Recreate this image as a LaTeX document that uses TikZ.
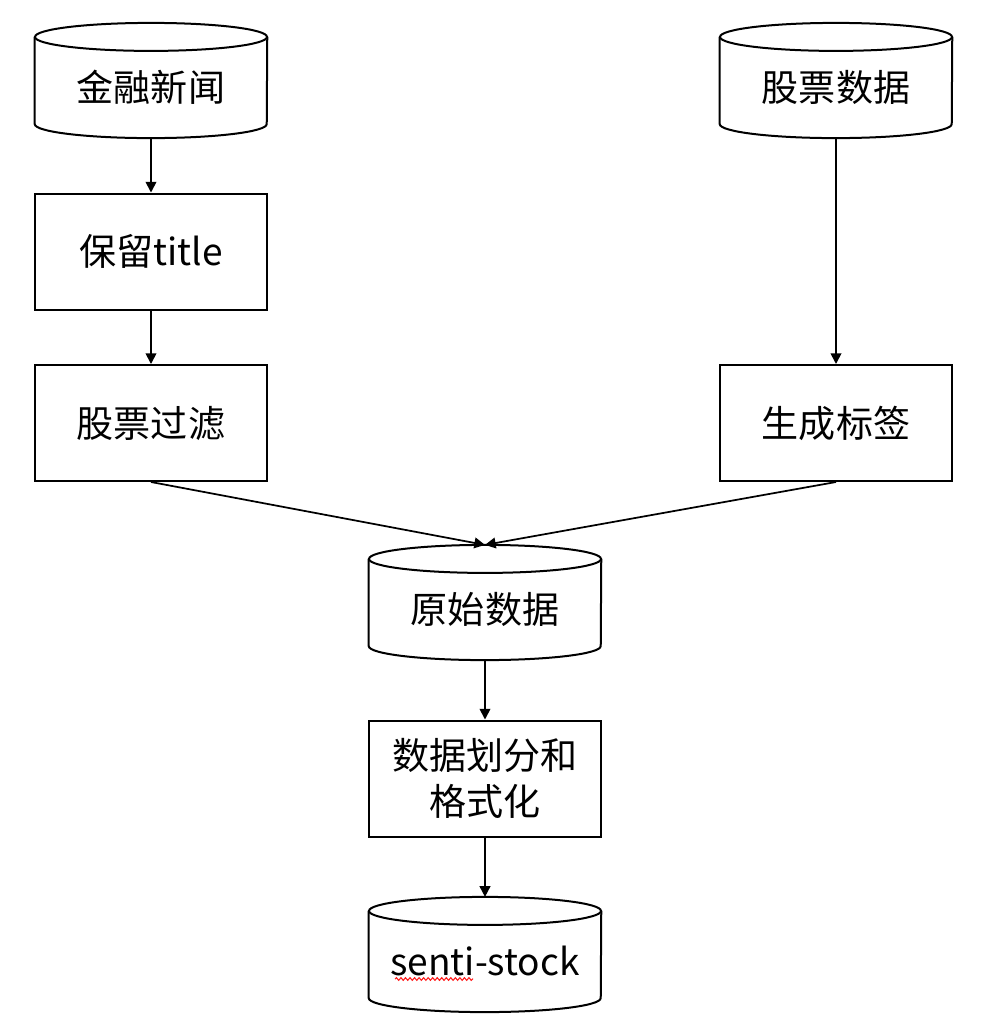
\documentclass[tikz,border=0pt]{standalone}
\usepackage{fontspec}
\setmainfont{Noto Sans CJK SC}
\usetikzlibrary{arrows.meta,decorations.pathmorphing}

\tikzset{
  box/.style={draw, line width=1.5pt, minimum width=174pt, minimum height=87pt,
    inner sep=0pt, align=center, font=\fontsize{27.8}{34}\selectfont},
  db/.style={minimum width=174pt, minimum height=86pt, inner sep=0pt,
    align=center, font=\fontsize{27.8}{34}\selectfont},
  cylline/.style={line width=1.5pt},
  flow/.style={line width=1.3pt, -{Triangle[length=8pt,width=8pt]}},
}
\newcommand{\dbtext}[1]{\raisebox{-5pt}[\height][\depth]{#1}}

\begin{document}
\begin{tikzpicture}[x=0.75pt,y=-0.75pt]
\useasboundingbox (0,0) rectangle (1000,1036);

% storage nodes (outline drawn below) and process boxes
\node[db] (news)  at (151,80.5)  {\dbtext{金融新闻}};
\node[db] (stock) at (836,80.5)  {\dbtext{股票数据}};
\node[db] (raw)   at (485,602.5) {\dbtext{原始数据}};
\node[db] (senti) at (485,954.5) {\dbtext{senti-stock}};

\node[box] (title)  at (151,251.5) {保留title};
\node[box] (filter) at (151,423)   {股票过滤};
\node[box] (label)  at (836,423)   {生成标签};
\node[box] (fmt)    at (485,778.5) {数据划分和\\格式化};

% cylinder outlines
\foreach \n in {news,stock,raw,senti}{
  \draw[cylline] ([yshift=-10.5pt]\n.north) ellipse[x radius=87pt, y radius=10.5pt];
  \draw[cylline] ([yshift=-10.5pt]\n.north west) -- ([yshift=10.5pt]\n.south west)
    arc[start angle=180, end angle=360, x radius=87pt, y radius=10.5pt]
    -- ([yshift=-10.5pt]\n.north east);
}

% spell-check underline
\draw[red!90!white, line width=0.8pt, decorate,
  decoration={snake, amplitude=1pt, segment length=3.4pt}] (395,979) -- (473,979);

% connectors
\draw[flow] (news) -- (title);
\draw[flow] (title) -- (filter);
\draw[flow] (stock) -- (label);
\draw[flow] (filter.south) -- (raw.north);
\draw[flow] (label.south) -- (raw.north);
\draw[flow] (raw) -- (fmt);
\draw[flow] (fmt) -- (senti);
\end{tikzpicture}
\end{document}
